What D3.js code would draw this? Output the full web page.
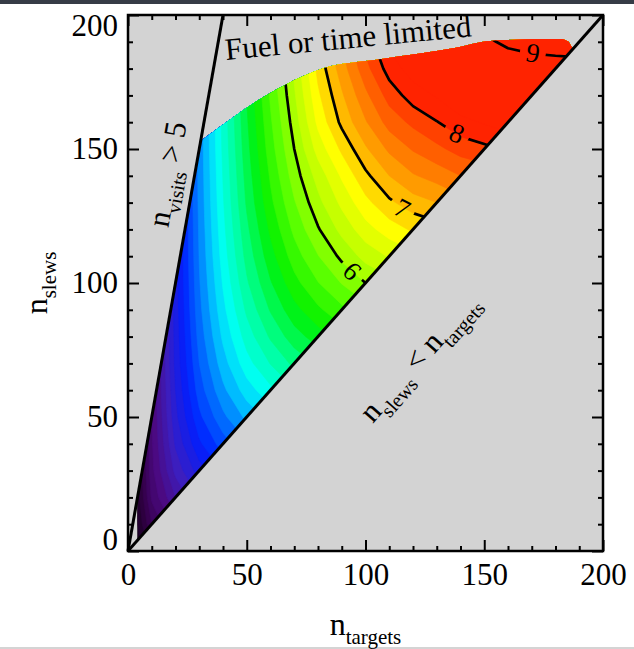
<!DOCTYPE html>
<html>
<head>
<meta charset="utf-8">
<script src="https://cdn.jsdelivr.net/npm/d3@7"></script>
<style>
  body { margin: 0; background: #fff; }
  svg { display: block; }
  text { font-family: "Liberation Serif", "Times New Roman", serif; fill: #000; }
</style>
</head>
<body>
<div id="chart"></div>
<script>
// values read off the colour bands, one row per n_slews (0,10,...,200),
// one column per n_targets (0,10,...,200)
var gridStep = 10;
var s0   = [0, .64, 1.14, 1.59, 1.97, 2.26, 2.49, 2.75, 2.92, 3.08, 3.16, 3.21, 3.29, 3.41, 3.59, 3.76, 3.93, 4.07, 4.20, 4.33, 4.45];
var s10  = [0, 1.0, 1.47, 1.89, 2.25, 2.53, 2.77, 3.02, 3.19, 3.35, 3.44, 3.50, 3.59, 3.70, 3.88, 4.04, 4.20, 4.33, 4.46, 4.58, 4.69];
var s20  = [0, 1.24, 1.80, 2.20, 2.54, 2.81, 3.04, 3.29, 3.47, 3.63, 3.73, 3.79, 3.88, 3.99, 4.16, 4.32, 4.47, 4.60, 4.72, 4.83, 4.94];
var s30  = [0, 1.34, 2.06, 2.50, 2.82, 3.09, 3.32, 3.56, 3.74, 3.90, 4.01, 4.08, 4.17, 4.28, 4.45, 4.60, 4.75, 4.87, 4.98, 5.09, 5.19];
var s40  = [0, 1.37, 2.23, 2.76, 3.10, 3.37, 3.60, 3.84, 4.01, 4.18, 4.30, 4.38, 4.47, 4.57, 4.74, 4.88, 5.02, 5.13, 5.24, 5.34, 5.43];
var s50  = [0, 1.39, 2.34, 2.95, 3.35, 3.65, 3.87, 4.11, 4.28, 4.45, 4.58, 4.67, 4.77, 4.87, 5.02, 5.16, 5.30, 5.40, 5.50, 5.60, 5.69];
var s60  = [0, 1.40, 2.40, 3.10, 3.55, 3.90, 4.15, 4.38, 4.56, 4.73, 4.87, 4.96, 5.06, 5.16, 5.31, 5.44, 5.57, 5.67, 5.76, 5.86, 5.93];
var s70  = [0, 1.40, 2.45, 3.20, 3.71, 4.12, 4.41, 4.65, 4.83, 5.00, 5.15, 5.25, 5.35, 5.45, 5.60, 5.72, 5.84, 5.93, 6.02, 6.10, 6.18];
var s80  = [0, 1.40, 2.47, 3.28, 3.84, 4.29, 4.63, 4.91, 5.10, 5.28, 5.43, 5.54, 5.65, 5.74, 5.88, 5.99, 6.11, 6.20, 6.28, 6.36, 6.43];
var s90  = [0, 1.40, 2.49, 3.34, 3.94, 4.44, 4.82, 5.13, 5.36, 5.55, 5.72, 5.84, 5.95, 6.03, 6.17, 6.27, 6.38, 6.47, 6.54, 6.62, 6.67];
var s100 = [0, 1.40, 2.50, 3.38, 4.02, 4.57, 4.98, 5.33, 5.59, 5.81, 6.00, 6.13, 6.24, 6.32, 6.45, 6.55, 6.66, 6.73, 6.80, 6.86, 6.92];
var s110 = [0, 1.40, 2.51, 3.41, 4.09, 4.67, 5.12, 5.50, 5.79, 6.05, 6.27, 6.42, 6.54, 6.62, 6.74, 6.83, 6.93, 7.00, 7.06, 7.12, 7.17];
var s120 = [0, 1.40, 2.51, 3.43, 4.14, 4.75, 5.24, 5.65, 5.98, 6.26, 6.52, 6.70, 6.83, 6.91, 7.03, 7.11, 7.21, 7.27, 7.32, 7.37, 7.42];
var s130 = [0, 1.40, 2.52, 3.45, 4.18, 4.83, 5.35, 5.78, 6.14, 6.45, 6.74, 6.96, 7.11, 7.20, 7.32, 7.39, 7.48, 7.53, 7.58, 7.62, 7.67];
var s140 = [0, 1.40, 2.52, 3.46, 4.21, 4.88, 5.43, 5.90, 6.28, 6.63, 6.95, 7.20, 7.38, 7.48, 7.60, 7.67, 7.75, 7.80, 7.84, 7.88, 7.91];
var s150 = [0, 1.40, 2.52, 3.47, 4.24, 4.93, 5.51, 6.00, 6.48, 6.84, 7.17, 7.44, 7.62, 7.75, 7.88, 7.95, 8.03, 8.07, 8.10, 8.13, 8.16];
var s160 = [0, 1.40, 2.52, 3.48, 4.26, 4.97, 5.57, 6.09, 6.65, 7.05, 7.38, 7.68, 7.85, 7.99, 8.14, 8.22, 8.30, 8.33, 8.36, 8.39, 8.41];
var s170 = [0, 1.40, 2.52, 3.49, 4.28, 5.01, 5.63, 6.17, 6.76, 7.17, 7.55, 7.88, 8.10, 8.22, 8.38, 8.47, 8.57, 8.60, 8.62, 8.65, 8.66];
var s180 = [0, 1.40, 2.52, 3.49, 4.29, 5.04, 5.68, 6.24, 6.86, 7.30, 7.73, 8.09, 8.30, 8.43, 8.61, 8.72, 8.81, 8.86, 8.88, 8.89, 8.90];
var s190 = [0, 1.40, 2.52, 3.49, 4.30, 5.06, 5.72, 6.30, 6.94, 7.40, 7.87, 8.25, 8.47, 8.63, 8.82, 8.94, 9.06, 9.11, 9.13, 9.15, 9.15];
var s200 = [0, 1.40, 2.52, 3.49, 4.31, 5.08, 5.76, 6.36, 7.02, 7.50, 7.98, 8.40, 8.64, 8.81, 9.02, 9.15, 9.28, 9.34, 9.38, 9.40, 9.40];
var grid = [s0, s10, s20, s30, s40, s50, s60, s70, s80, s90, s100,
            s110, s120, s130, s140, s150, s160, s170, s180, s190, s200];

// labelled contour levels and where their labels sit (n_targets, n_slews)
var levels = [6, 7, 8, 9];
var labelX = [94.5, 115.5, 138.5, 170.5];
var labelY = [104.5, 128, 156, 186];

// outline of the computed region
var stubX = [4, 4], stubY = [4, 20];
var topX = [30.6, 38.7, 52.8, 66.1, 82.2, 106.1, 137, 153.8, 182, 185.5];
var topY = [153, 158.3, 167.1, 173.9, 180.1, 183.5, 187.6, 190.4, 191, 190];
var endX = 187.3, endY = 187.3;

var ticks = [0, 50, 100, 150, 200];

// colour bar stops (value -> colour), IDL-like rainbow
var paletteV = [0, 0.8, 1.5, 2.1, 2.8, 3.4, 3.8, 4.1, 4.6, 5.2, 5.7, 6.1, 6.7, 7.0, 7.4, 7.8, 8.1];
var paletteC = ["#0a000a", "#320046", "#4b0a82", "#3c1ebe", "#001eff", "#0078ff", "#00d2ff", "#00fff0",
                "#00ff96", "#00f000", "#5aff00", "#aaff00", "#ffff00", "#ffc800", "#ff8c00", "#ff5000", "#ff2300"];

var W = 634, H = 649;
var box = { left: 128, right: 603, top: 15, bottom: 551 };

var x = d3.scaleLinear().domain([0, 200]).range([box.left, box.right]);
var y = d3.scaleLinear().domain([0, 200]).range([box.bottom, box.top]);
var color = d3.scaleLinear().domain(paletteV).range(paletteC).clamp(true);

var svg = d3.select("#chart").append("svg")
    .attr("width", W)
    .attr("height", H);

svg.append("rect").attr("width", W).attr("height", H).attr("fill", "#fff");
svg.append("rect").attr("width", W).attr("height", 4).attr("fill", "#363c46");
svg.append("rect").attr("y", H - 2).attr("width", W).attr("height", 2).attr("fill", "#d4d4d4");

svg.append("rect")
    .attr("x", box.left).attr("y", box.top)
    .attr("width", box.right - box.left).attr("height", box.bottom - box.top)
    .attr("fill", "#d3d3d3");

// region outline as clip path
var topLine = d3.line()
    .x(function(d) { return x(d[0]); })
    .y(function(d) { return y(d[1]); })
    .curve(d3.curveMonotoneX);
var topPts = topX.map(function(v, i) { return [v, topY[i]]; });
var regionD = "M" + x(stubX[0]) + "," + y(stubY[0]) +
    "L" + x(stubX[1]) + "," + y(stubY[1]) +
    topLine(topPts).replace(/^M/, "L") +
    "L" + x(endX) + "," + y(endY) + "Z";

var defs = svg.append("defs");
defs.append("clipPath").attr("id", "region").append("path").attr("d", regionD);

var mask = defs.append("mask").attr("id", "gaps")
    .attr("maskUnits", "userSpaceOnUse")
    .attr("x", 0).attr("y", 0).attr("width", W).attr("height", H);
mask.append("rect").attr("width", W).attr("height", H).attr("fill", "#fff");
mask.selectAll("circle")
    .data(levels)
    .enter().append("circle")
    .attr("cx", function(d, i) { return x(labelX[i]); })
    .attr("cy", function(d, i) { return y(labelY[i]); })
    .attr("r", 13)
    .attr("fill", "#000");

// contour bands
var values = [].concat.apply([], grid);
var nx = grid[0].length, ny = grid.length;
var proj = d3.geoTransform({
    point: function(cx, cy) {
        this.stream.point(x((cx - 0.5) * gridStep), y((cy - 0.5) * gridStep));
    }
});
var path = d3.geoPath(proj);

var bandStep = 0.2;
var thresholds = d3.range(0, 8.2 + 1e-6, bandStep);
var bands = d3.contours().size([nx, ny]).thresholds(thresholds)(values);

var fillG = svg.append("g").attr("clip-path", "url(#region)");
fillG.selectAll("path.band")
    .data(bands)
    .enter().append("path")
    .attr("class", "band")
    .attr("d", path)
    .attr("fill", function(d) { return color(d.value + bandStep / 2); })
    .attr("stroke", function(d) { return color(d.value + bandStep / 2); })
    .attr("stroke-width", 0.6);

// labelled contour lines
var lines = d3.contours().size([nx, ny]).thresholds(levels)(values);
fillG.append("g").attr("mask", "url(#gaps)")
    .selectAll("path")
    .data(lines)
    .enter().append("path")
    .attr("d", path)
    .attr("fill", "none")
    .attr("stroke", "#000")
    .attr("stroke-width", 2.7)
    .attr("stroke-linejoin", "round");

var labelAngle = [45, 28, 22, 10];
svg.selectAll("text.clab")
    .data(levels)
    .enter().append("text")
    .attr("class", "clab")
    .attr("transform", function(d, i) {
        return "translate(" + x(labelX[i]) + "," + y(labelY[i]) + ") rotate(" + labelAngle[i] + ")";
    })
    .attr("text-anchor", "middle")
    .attr("dy", "0.35em")
    .style("font-size", "27px")
    .text(function(d) { return d; });

// limit lines: n_visits = 5 and n_slews = n_targets
svg.append("line")
    .attr("x1", x(0)).attr("y1", y(0)).attr("x2", x(40)).attr("y2", y(200))
    .attr("stroke", "#000").attr("stroke-width", 3);
svg.append("line")
    .attr("x1", x(0)).attr("y1", y(0)).attr("x2", x(200)).attr("y2", y(200))
    .attr("stroke", "#000").attr("stroke-width", 3);

// axes with inward ticks on all four sides
var minor = d3.range(0, 201, 10).filter(function(v) { return v % 50 !== 0; });

function addAxis(axisFn, scale, tx, ty, withLabels) {
    var major = svg.append("g")
        .attr("transform", "translate(" + tx + "," + ty + ")")
        .call(axisFn(scale).tickValues(ticks).tickSize(-11)
            .tickPadding(axisFn === d3.axisBottom ? 12 : 10)
            .tickFormat(withLabels ? d3.format("d") : ""));
    var mn = svg.append("g")
        .attr("transform", "translate(" + tx + "," + ty + ")")
        .call(axisFn(scale).tickValues(minor).tickSize(-5).tickFormat(""));
    [major, mn].forEach(function(g) {
        g.select(".domain").remove();
        g.selectAll(".tick line").attr("stroke", "#000").attr("stroke-width", 2);
    });
    major.selectAll(".tick text")
        .style("font-family", "'Liberation Serif', 'Times New Roman', serif")
        .style("font-size", "31px")
        .attr("fill", "#000");
    return major;
}
addAxis(d3.axisBottom, x, 0, box.bottom, true);
addAxis(d3.axisTop, x, 0, box.top, false);
var yAxisG = addAxis(d3.axisLeft, y, box.left, 0, true);
addAxis(d3.axisRight, y, box.right, 0, false);

// keep the end labels of the y axis inside the frame height
var half = 11;
yAxisG.selectAll(".tick text")
    .attr("y", function(d) {
        var c = y(d);
        return Math.min(Math.max(c, box.top + half), box.bottom - half) - c;
    });

svg.append("rect")
    .attr("x", box.left).attr("y", box.top)
    .attr("width", box.right - box.left).attr("height", box.bottom - box.top)
    .attr("fill", "none").attr("stroke", "#000").attr("stroke-width", 2.5);

// text with subscripts
function subLabel(sel, parts, size, subSize) {
    var shift = Math.round(size * 0.28);
    var down = false;
    parts.forEach(function(p) {
        var t = sel.append("tspan").text(p[0]);
        if (p[1] && !down) { t.style("font-size", subSize + "px").attr("dy", shift); down = true; }
        else if (!p[1] && down) { t.style("font-size", size + "px").attr("dy", -shift); down = false; }
        else { t.style("font-size", (p[1] ? subSize : size) + "px"); }
    });
}

var xl = svg.append("text")
    .attr("x", (box.left + box.right) / 2).attr("y", 635)
    .attr("text-anchor", "middle");
subLabel(xl, [["n", false], ["targets", true]], 32, 21);

var yl = svg.append("text")
    .attr("transform", "translate(47," + (box.top + box.bottom) / 2 + ") rotate(-90)")
    .attr("text-anchor", "middle");
subLabel(yl, [["n", false], ["slews", true]], 32, 21);

var fuel = svg.append("text")
    .attr("transform", "translate(" + x(41.3) + "," + y(183.2) + ") rotate(-5.5)")
    .style("font-size", "31px")
    .text("Fuel or time limited");

var nv = svg.append("text")
    .attr("transform", "translate(" + x(18.5) + "," + y(140.3) + ") rotate(-80)")
    .attr("text-anchor", "middle")
    .attr("dy", "0.35em");
subLabel(nv, [["n", false], ["visits", true], [" > 5", false]], 31, 20);

var ns = svg.append("text")
    .attr("transform", "translate(" + x(123.8) + "," + y(71.3) + ") rotate(-48.5)")
    .attr("text-anchor", "middle")
    .attr("dy", "0.35em");
subLabel(ns, [["n", false], ["slews", true], [" < n", false], ["targets", true]], 31, 20);
</script>
</body>
</html>
